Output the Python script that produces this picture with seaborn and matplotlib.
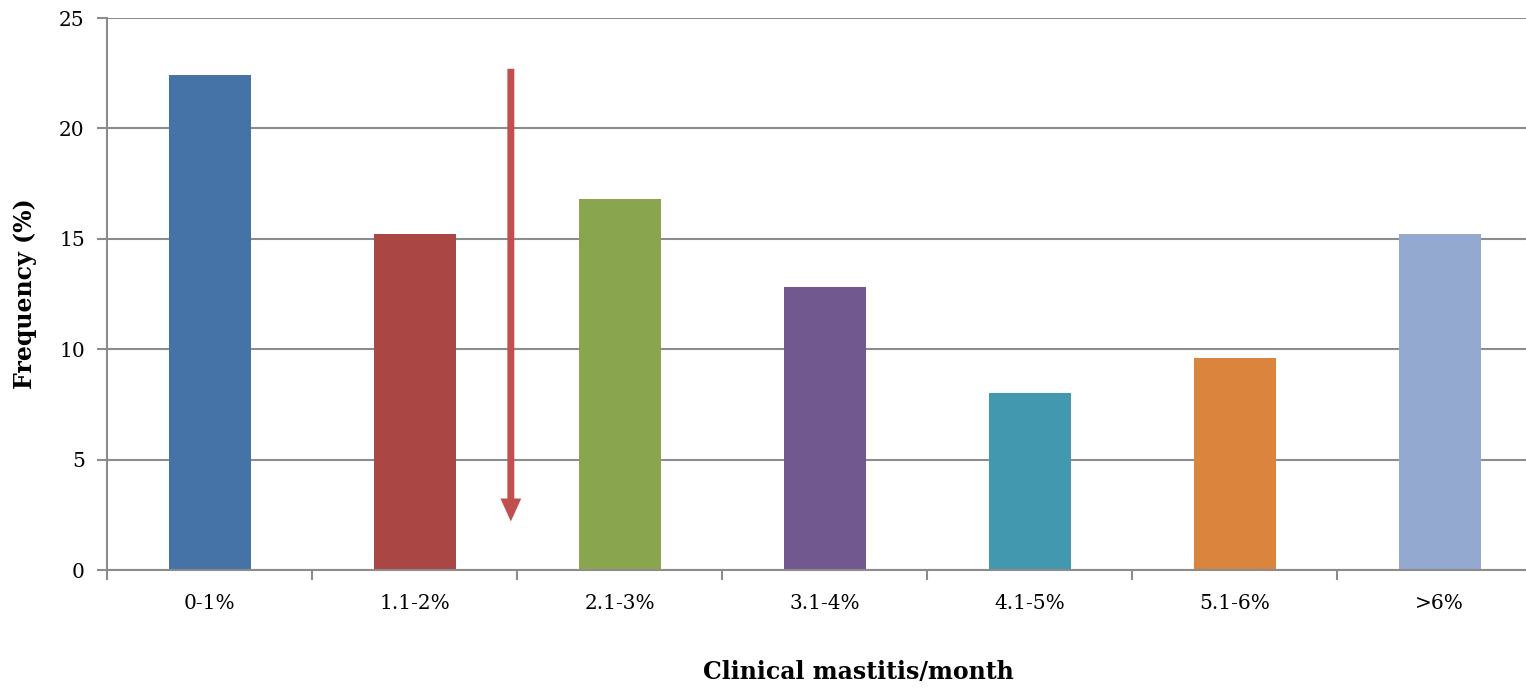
import numpy as np
import pandas as pd
import matplotlib
matplotlib.use('Agg')
import matplotlib.pyplot as plt
import seaborn as sns

# Data
categories = ['0-1%', '1.1-2%', '2.1-3%', '3.1-4%', '4.1-5%', '5.1-6%', '>6%']
frequency = [22.4, 15.2, 16.8, 12.8, 8.0, 9.6, 15.2]
bar_colors = ['#4572A7', '#AA4643', '#89A54E', '#71588F', '#4198AF', '#DB843D', '#93A9CF']

# arrow marking the cut-off between 1.1-2% and 2.1-3%
arrow_x = 1.47
arrow_start = 22.7
arrow_end = 2.2

df = pd.DataFrame({'Category': categories, 'Frequency': frequency})

sns.set_style('white')
plt.rcParams['font.family'] = ['DejaVu Serif']
plt.rcParams['text.color'] = 'black'
plt.rcParams['axes.labelcolor'] = 'black'
plt.rcParams['xtick.labelcolor'] = 'black'
plt.rcParams['ytick.labelcolor'] = 'black'

fig = plt.figure(figsize=(15.26, 6.89), dpi=100)
ax = fig.add_axes([107 / 1526, 1 - 570 / 689, (1542 - 107) / 1526, (570 - 18) / 689])

sns.barplot(data=df, x='Category', y='Frequency', hue='Category',
            palette=bar_colors, width=0.4, legend=False, saturation=1,
            linewidth=0, ax=ax)

grid_col = '#8C8C8C'
ax.set_ylim(0, 25)
ax.set_xlim(-0.5, len(categories) - 0.5)
ax.set_yticks(range(0, 26, 5))
ax.yaxis.grid(True, color=grid_col, linewidth=1.5)
ax.set_axisbelow(True)

for side in ['top', 'right']:
    ax.spines[side].set_visible(False)
for side in ['left', 'bottom']:
    ax.spines[side].set_color(grid_col)
    ax.spines[side].set_linewidth(1.5)

# category boundary ticks on x
ax.set_xticks(np.arange(-0.5, len(categories), 1.0), minor=True)
ax.tick_params(axis='x', which='minor', bottom=True, length=7, width=1.5,
               color=grid_col, direction='out')
ax.tick_params(axis='x', which='major', bottom=False, length=0, labelsize=14.5, pad=17)
ax.tick_params(axis='y', left=True, length=7, width=1.5, color=grid_col,
               direction='out', labelsize=14.5, pad=9)

ax.set_xlabel('')
ax.set_ylabel('Frequency (%)', fontsize=17, fontweight='bold', labelpad=16)
fig.text(858 / 1526, 1 - 672 / 689, 'Clinical mastitis/month', fontsize=17,
         fontweight='bold', ha='center', va='center')

ax.annotate('', xy=(arrow_x, arrow_end), xytext=(arrow_x, arrow_start),
            arrowprops=dict(arrowstyle='simple,head_length=1.65,head_width=1.5,tail_width=0.5',
                            mutation_scale=10, facecolor='#C0504D', edgecolor='none',
                            lw=0, shrinkA=0, shrinkB=0))

plt.savefig('out.png', dpi=100)
